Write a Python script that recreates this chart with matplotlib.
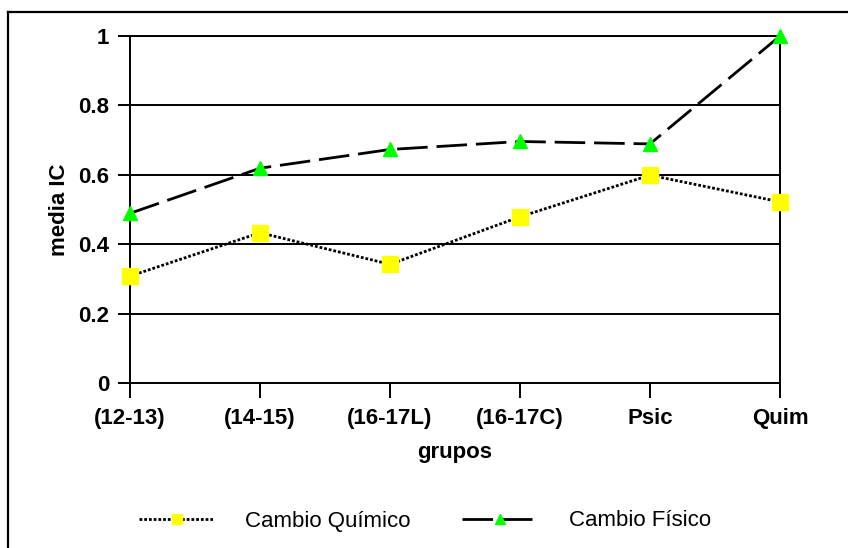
import matplotlib
matplotlib.use("Agg")
import matplotlib.pyplot as plt
from matplotlib.lines import Line2D

categories = ["(12-13)", "(14-15)", "(16-17L)", "(16-17C)", "Psic", "Quim"]
cambio_quimico = [0.308, 0.433, 0.342, 0.479, 0.599, 0.522]
cambio_fisico = [0.489, 0.619, 0.673, 0.696, 0.689, 1.0]
yticks = [0, 0.2, 0.4, 0.6, 0.8, 1.0]
ytick_labels = ["0", "0.2", "0.4", "0.6", "0.8", "1"]

plt.rcParams["font.family"] = ["Liberation Sans", "DejaVu Sans"]

fig = plt.figure(figsize=(8.48, 5.48), dpi=100)
ax = fig.add_axes([130 / 848, 1 - 383 / 548, 650 / 848, 347 / 548])

x = list(range(len(categories)))
ax.plot(x, cambio_quimico, color="black", lw=2.0, dashes=(1.0, 0.7),
        marker="s", markersize=11, markerfacecolor="#FFFF00",
        markeredgecolor="#FFFF00", label="Cambio Químico", zorder=3,
        clip_on=False)
ax.plot(x, cambio_fisico, color="black", lw=2.0, dashes=(11, 3.2),
        marker="^", markersize=10, markerfacecolor="#00FF00",
        markeredgecolor="#00FF00", label="Cambio Físico", zorder=3,
        clip_on=False)

ax.set_xlim(0, len(categories) - 1)
ax.set_ylim(0, 1)
ax.set_yticks(yticks)
ax.set_yticklabels(ytick_labels)
ax.set_xticks(x)
ax.set_xticklabels(categories)
for yv in yticks[1:]:
    ax.axhline(yv, color="black", lw=1.4, zorder=1)

for s in ax.spines.values():
    s.set_color("black")
    s.set_linewidth(1.4)

ax.tick_params(axis="y", direction="out", length=9, width=1.4, pad=6,
               labelsize=16)
ax.tick_params(axis="x", direction="out", length=11, width=1.4, pad=7,
               labelsize=16)
for lab in ax.get_xticklabels() + ax.get_yticklabels():
    lab.set_fontweight("bold")

ax.set_ylabel("media IC", fontsize=16, fontweight="bold")
ax.yaxis.set_label_coords(-0.109, 0.5)
ax.yaxis.label.set_va("center")
ax.set_xlabel("grupos", fontsize=16, fontweight="bold")
ax.xaxis.set_label_coords(0.5, -0.199)
ax.xaxis.label.set_va("center")

ax.legend(loc="center", bbox_to_anchor=(0.501, 1 - 521 / 548),
          bbox_transform=fig.transFigure, ncol=2, frameon=False,
          fontsize=16, handlelength=3.4, handletextpad=1.4,
          columnspacing=2.3, numpoints=1, markerscale=0.7)

# outer frame (top and left edges)
fig.add_artist(Line2D([7.5 / 848, 1.0], [1 - 11.5 / 548, 1 - 11.5 / 548],
                      transform=fig.transFigure, color="black", lw=1.6))
fig.add_artist(Line2D([7.5 / 848, 7.5 / 848], [0.0, 1 - 11.5 / 548],
                      transform=fig.transFigure, color="black", lw=1.6))

fig.savefig("out.png", dpi=100, facecolor="white")
